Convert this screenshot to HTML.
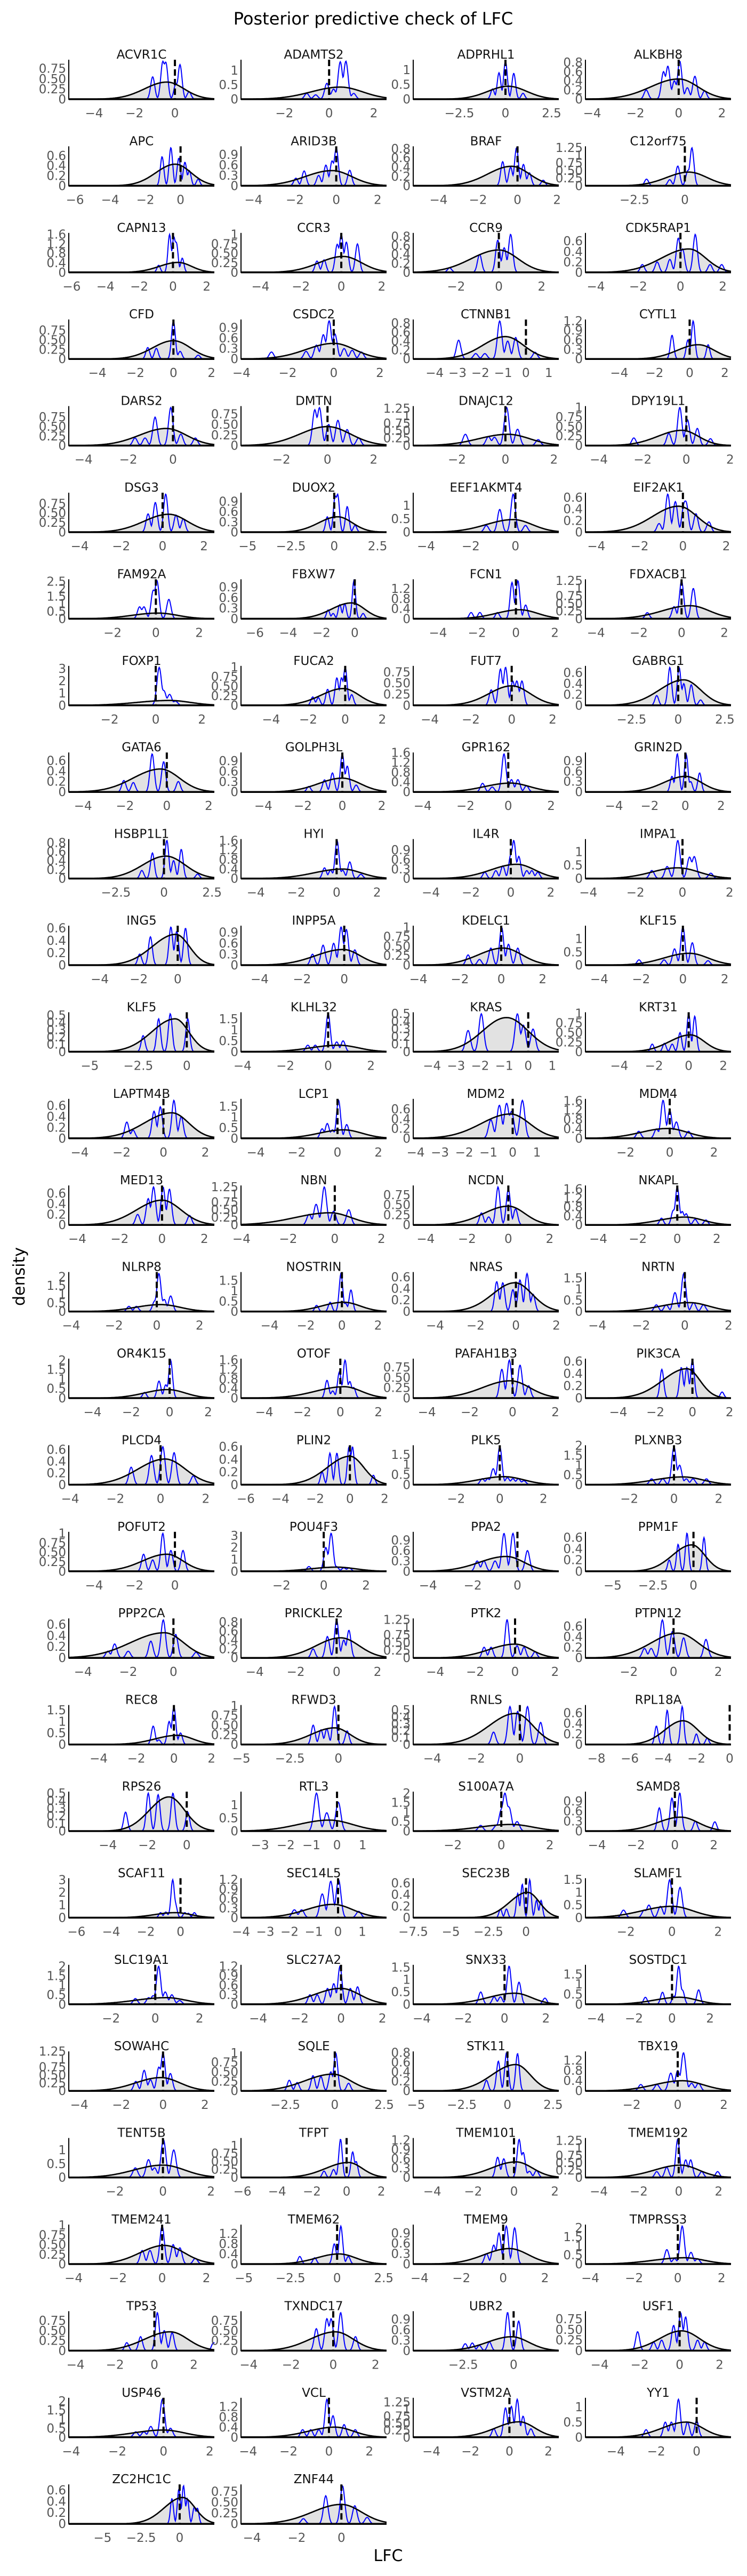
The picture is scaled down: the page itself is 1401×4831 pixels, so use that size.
<!DOCTYPE html>
<html><head><meta charset="utf-8">
<style>
html,body{margin:0;padding:0;background:#fff;}
svg{display:block;font-family:"DejaVu Sans","Liberation Sans",sans-serif;}
</style></head>
<body>
<svg id="fig" width="1401" height="4831" viewBox="0 0 1401 4831" xmlns="http://www.w3.org/2000/svg">
<text x="700" y="46" text-anchor="middle" font-size="32" fill="#000">Posterior predictive check of LFC</text>
<text x="0" y="0" transform="translate(46,2394) rotate(-90)" text-anchor="middle" font-size="30" fill="#000">density</text>
<text x="728" y="4803" text-anchor="middle" font-size="30" fill="#000">LFC</text>
<g id="panels"></g>
</svg>
<script>
const geneNames = ["ACVR1C","ADAMTS2","ADPRHL1","ALKBH8","APC","ARID3B","BRAF","C12orf75","CAPN13","CCR3","CCR9","CDK5RAP1","CFD","CSDC2","CTNNB1","CYTL1","DARS2","DMTN","DNAJC12","DPY19L1","DSG3","DUOX2","EEF1AKMT4","EIF2AK1","FAM92A","FBXW7","FCN1","FDXACB1","FOXP1","FUCA2","FUT7","GABRG1","GATA6","GOLPH3L","GPR162","GRIN2D","HSBP1L1","HYI","IL4R","IMPA1","ING5","INPP5A","KDELC1","KLF15","KLF5","KLHL32","KRAS","KRT31","LAPTM4B","LCP1","MDM2","MDM4","MED13","NBN","NCDN","NKAPL","NLRP8","NOSTRIN","NRAS","NRTN","OR4K15","OTOF","PAFAH1B3","PIK3CA","PLCD4","PLIN2","PLK5","PLXNB3","POFUT2","POU4F3","PPA2","PPM1F","PPP2CA","PRICKLE2","PTK2","PTPN12","REC8","RFWD3","RNLS","RPL18A","RPS26","RTL3","S100A7A","SAMD8","SCAF11","SEC14L5","SEC23B","SLAMF1","SLC19A1","SLC27A2","SNX33","SOSTDC1","SOWAHC","SQLE","STK11","TBX19","TENT5B","TFPT","TMEM101","TMEM192","TMEM241","TMEM62","TMEM9","TMPRSS3","TP53","TXNDC17","UBR2","USF1","USP46","VCL","VSTM2A","YY1","ZC2HC1C","ZNF44"];
const xMin = [-5.25,-3.94,-5.0,-4.31,-6.35,-4.6,-5.28,-4.93,-6.17,-4.96,-4.0,-4.49,-5.5,-4.02,-4.94,-5.92,-4.66,-3.75,-3.8,-4.61,-4.53,-5.38,-4.57,-4.5,-4.02,-6.83,-5.27,-4.49,-3.77,-5.62,-4.81,-4.97,-4.68,-5.13,-4.44,-5.6,-4.95,-4.73,-4.88,-4.12,-5.59,-4.88,-4.25,-4.66,-6.08,-4.07,-4.78,-5.95,-4.52,-4.72,-4.1,-3.81,-4.4,-4.02,-4.6,-4.65,-4.11,-5.58,-5.08,-4.54,-5.23,-5.22,-4.64,-5.77,-4.06,-6.27,-3.96,-3.96,-5.25,-3.91,-4.66,-6.68,-4.63,-4.67,-5.1,-3.94,-5.59,-5.02,-4.87,-8.66,-5.98,-3.74,-3.63,-4.59,-6.44,-4.0,-7.5,-3.75,-3.91,-4.83,-4.41,-4.55,-4.5,-4.74,-5.16,-4.0,-3.92,-6.08,-4.93,-4.67,-4.22,-5.15,-4.3,-4.22,-4.34,-4.36,-4.98,-4.71,-4.1,-4.35,-4.93,-5.5,-7.19,-4.49];
const xMax = [1.95,2.57,2.89,2.42,1.92,2.43,2.09,2.29,2.45,2.24,2.8,2.39,2.15,2.29,1.44,2.35,1.85,2.56,2.2,2.04,2.5,3.02,1.94,2.22,2.7,1.91,2.2,2.31,2.54,2.23,2.3,2.83,2.27,2.24,2.36,2.56,2.62,2.47,2.4,2.06,1.88,2.0,2.78,2.3,1.42,2.73,1.27,2.44,2.43,2.4,1.9,2.77,2.47,2.22,2.44,2.72,2.69,2.47,2.12,2.11,2.32,2.43,2.16,2.08,2.38,2.11,2.7,2.55,1.95,2.97,1.85,2.32,1.81,2.44,2.19,2.57,2.15,2.48,1.78,0.08,1.4,1.93,2.37,2.88,1.95,2.0,2.18,2.56,2.67,2.2,2.62,3.1,2.45,2.62,2.81,2.31,2.14,2.3,2.19,2.62,2.36,2.65,2.66,2.43,3.04,2.52,2.24,2.57,2.2,2.85,2.53,1.7,2.25,2.02];
const A="−4,−2,0", B="−4,−2,0,2", C="−2,0,2", D="−6,−4,−2,0", E="−6,−4,−2,0,2", F="−4,−3,−2,−1,0,1", G="−2.5,0,2.5", H="−5,−2.5,0", I="−5,−2.5,0,2.5";
const xTicks = [A,C,G,B,D,B,B,"−2.5,0",E,B,C,B,B,B,F,B,A,C,C,B,B,I,A,B,C,D,B,B,C,B,B,G,B,B,B,B,G,B,B,B,A,A,B,B,H,B,F,B,B,B,F,C,B,B,B,B,B,B,B,B,B,B,B,B,B,E,C,C,A,C,A,H,A,B,B,C,B,H,A,"−8,−6,−4,−2,0",A,"−3,−2,−1,0,1",C,B,D,F,"−7.5,−5,−2.5,0",C,C,B,B,B,B,G,I,C,C,E,B,B,B,I,B,B,B,B,"−2.5,0",B,B,B,B,A,H,A];
const q="0,0.25,0.50,0.75", q1="0,0.25,0.50,0.75,1", q2="0,0.25,0.50,0.75,1,1.25", h="0,0.5,1", h2="0,0.5,1,1.5", h3="0,0.5,1,1.5,2", t="0,0.2,0.4,0.6", t8="0,0.2,0.4,0.6,0.8", n="0,0.3,0.6,0.9", n2="0,0.3,0.6,0.9,1.2", f="0,0.4,0.8,1.2", f2="0,0.4,0.8,1.2,1.6", o="0,1,2,3", p="0,0.1,0.2,0.3,0.4,0.5";
const yTicks = [q,h,h,t8,t,n,t8,q2,f2,q1,t8,t,q,n,t8,n2,q,q,q2,q1,q,n,h,t,"0,0.5,1,1.5,2,2.5",n,f,q2,o,q1,q,t,t,n,f2,n,t8,f2,n,h,t,n,q1,h,p,h2,p,q1,t,h2,t,f2,t,q2,q,f2,h3,h2,t,h2,h3,f2,q,t,t,t,h2,h3,q1,o,n,t,t,t8,q2,t,h2,q1,p,t,p,h,h3,n,o,n2,t,h2,h3,n2,h2,h2,q2,q1,t8,f,h,q1,n2,q2,q1,f,n,h3,q,q,n,q,h3,f,q2,h,t,q];
const obsLFC = new Array(114).fill(0);
// posterior predictive curve: [centre, left spread, right spread, peak density]
const ppcCurve = [[-0.4,1.1,0.85,0.42],[0.5,1.3,1.0,0.42],[0.15,1.1,1.0,0.44],[0,1.3,0.9,0.44],[-0.3,1.1,0.9,0.43],[-0.2,1.3,0.95,0.44],[-0.3,1.2,0.9,0.42],[0.2,1.1,0.9,0.45],[0.3,1.1,0.8,0.42],[0.1,1.2,0.9,0.42],[0,1.3,0.9,0.5],[0.4,1.3,0.8,0.45],[0,1.1,0.9,0.48],[0,1.2,0.9,0.45],[-0.9,1.0,0.8,0.5],[0.5,1.2,0.9,0.45],[-0.3,1.2,0.9,0.45],[0,1.2,1.0,0.45],[0.1,1.2,0.9,0.38],[-0.2,1.1,0.75,0.4],[0.3,1.2,0.9,0.47],[0.2,1.1,0.85,0.45],[-0.1,1.2,0.85,0.47],[-0.2,1.2,0.85,0.45],[0.1,1.2,0.9,0.38],[-0.2,1.2,0.8,0.45],[0.2,1.2,0.9,0.36],[0.4,1.3,0.9,0.43],[0.6,1.4,0.9,0.4],[-0.1,1.2,0.85,0.44],[0,1.1,0.9,0.44],[0.3,1.3,0.9,0.47],[-0.3,1.3,0.9,0.44],[0,1.2,0.9,0.4],[0.1,1.2,0.9,0.36],[0,1.2,0.9,0.45],[0.1,1.2,1.0,0.5],[0.3,1.4,0.9,0.4],[0.3,1.3,0.9,0.45],[-0.2,1.1,0.9,0.4],[-0.1,1.2,0.7,0.5],[-0.05,1.3,0.8,0.43],[0.1,1.2,0.9,0.45],[0.3,1.2,0.9,0.45],[-0.6,1.2,0.7,0.45],[0.5,1.3,0.9,0.3],[-0.9,1.0,0.9,0.45],[0.1,1.2,0.8,0.44],[0.4,1.3,0.8,0.47],[0.3,1.2,0.9,0.4],[-0.1,1.2,0.8,0.5],[-0.1,1.2,0.9,0.42],[0,1.2,0.9,0.47],[-0.2,1.5,0.9,0.4],[0,1.2,0.8,0.47],[0.4,1.3,0.9,0.35],[0.2,1.2,0.9,0.4],[0.1,1.2,0.9,0.45],[-0.05,1.1,0.85,0.5],[0.2,1.3,0.9,0.4],[-0.1,1.2,0.9,0.45],[0.2,1.5,0.9,0.48],[-0.1,1.3,0.9,0.42],[-0.3,1.3,0.7,0.48],[0.2,1.2,0.9,0.44],[0,1.3,0.8,0.45],[0.2,1.2,0.9,0.4],[0.4,1.3,0.9,0.4],[-0.4,1.2,0.8,0.45],[0.6,1.2,0.9,0.35],[-0.5,1.2,0.8,0.43],[-0.1,1.2,0.8,0.47],[-0.4,1.5,0.85,0.45],[0.2,1.2,0.9,0.45],[0,1.3,0.8,0.45],[0.2,1.2,0.9,0.47],[0.2,1.2,0.8,0.4],[-0.2,1.2,0.8,0.43],[-0.2,1.2,0.8,0.45],[-2.8,1.1,0.9,0.45],[-0.9,1.0,0.8,0.45],[-0.3,1.2,0.9,0.42],[0.4,1.3,0.9,0.35],[0.3,1.2,0.9,0.42],[-0.3,1.2,0.9,0.4],[-0.2,1.1,0.8,0.42],[0.1,1.2,0.8,0.44],[0,1.3,0.9,0.45],[0.5,1.4,0.9,0.35],[0,1.3,0.9,0.5],[0.5,1.3,0.8,0.45],[0.4,1.3,0.9,0.35],[-0.1,1.2,0.9,0.42],[-0.1,1.4,0.9,0.44],[0.45,1.3,0.8,0.55],[0.2,1.2,0.9,0.4],[0,1.2,0.9,0.45],[0.1,1.3,0.8,0.47],[0.1,1.2,0.8,0.5],[0.1,1.3,0.9,0.42],[0.1,1.1,0.9,0.48],[0.1,1.2,0.9,0.4],[0.3,1.2,0.9,0.45],[0.3,1.4,0.9,0.35],[0.8,1.3,0.9,0.47],[0.1,1.2,0.85,0.47],[-0.1,1.2,0.85,0.4],[0.1,1.1,0.9,0.47],[0,1.3,0.9,0.4],[0.3,1.3,0.9,0.4],[0.5,1.2,0.8,0.55],[-0.5,1.2,0.8,0.5],[0.2,1.2,0.8,0.47],[0,1.3,0.9,0.45]];
// observed-data density peaks: [LFC, density]
const obsPeaks = [
[[-1.1,0.55],[-0.6,0.92],[-0.45,0.9],[0.05,0.38],[0.25,0.85],[0.7,0.18]],
[[-1.0,0.2],[-0.6,0.15],[-0.1,0.55],[0.2,0.35],[0.5,1.3],[0.75,1.32],[1.1,0.2]],
[[-0.7,0.35],[-0.35,0.9],[0,1.3],[0.45,0.88],[0.95,0.2]],
[[-1.5,0.2],[-0.7,0.6],[-0.5,0.72],[-0.2,0.4],[0.05,0.83],[0.4,0.25],[0.75,0.5],[1.2,0.18]],
[[-1.05,0.58],[-0.55,0.76],[-0.1,0.55],[0.25,0.47],[0.5,0.3],[1.0,0.13]],
[[-1.95,0.22],[-1.55,0.43],[-0.85,0.3],[-0.5,0.6],[-0.2,0.72],[0,1.1],[0.65,0.45]],
[[-0.75,0.52],[-0.35,0.4],[-0.05,0.82],[0.3,0.46],[0.6,0.28],[1.3,0.12]],
[[-1.9,0.22],[-0.75,0.2],[-0.35,0.65],[0.15,0.5],[0.35,1.25]],
[[-0.85,0.3],[-0.2,1.6],[0.05,1.5],[0.2,1.25],[0.55,0.6]],
[[-1.2,0.3],[-0.85,0.33],[-0.2,0.74],[0,1.0],[0.25,0.8],[0.8,0.75]],
[[-2.3,0.1],[-0.9,0.4],[-0.05,0.72],[0.25,0.55],[0.55,0.85]],
[[-1.8,0.15],[-1.1,0.2],[-0.5,0.25],[-0.1,0.66],[0.1,0.45],[0.7,0.73],[1.4,0.15],[1.95,0.15]],
[[-1.35,0.3],[-0.9,0.28],[0,1.0],[0.35,0.2],[1.3,0.1]],
[[-2.7,0.2],[-1.2,0.22],[-0.75,0.4],[-0.45,0.7],[-0.2,1.1],[0.05,0.72],[0.45,0.3],[0.8,0.25],[1.2,0.2]],
[[-2.95,0.42],[-2.2,0.12],[-1.8,0.12],[-1.15,0.85],[-0.8,0.4],[-0.45,0.48],[0.4,0.15]],
[[-1.0,0.75],[-0.1,0.6],[0.2,1.2],[1.05,0.45]],
[[-1.7,0.2],[-1.25,0.2],[-0.8,0.75],[-0.1,1.0],[0.35,0.3],[1.0,0.2]],
[[-0.55,0.85],[-0.35,0.9],[0.05,0.5],[0.45,0.6],[0.85,0.38],[1.35,0.18]],
[[-1.65,0.38],[-0.7,0.3],[-0.45,0.28],[0.05,1.28],[0.5,0.55],[1.35,0.2]],
[[-2.4,0.2],[-0.8,0.32],[-0.3,1.0],[0.05,0.68],[0.5,0.45],[1.1,0.18]],
[[-0.7,0.48],[-0.35,0.78],[0.15,1.0],[0.65,0.45],[1.0,0.35]],
[[-0.4,0.45],[0.05,1.05],[0.2,1.1],[0.75,0.75],[1.2,0.2]],
[[-1.3,0.25],[-0.7,0.85],[-0.1,1.42],[0.45,0.25]],
[[-1.1,0.15],[-0.7,0.66],[-0.35,0.53],[0.05,0.47],[0.15,0.5],[0.6,0.32],[1.2,0.18]],
[[-0.75,0.8],[-0.55,0.8],[-0.12,1.9],[0.05,2.55],[0.6,1.3]],
[[-1.6,0.25],[-1.3,0.15],[-0.9,0.4],[-0.6,0.42],[-0.05,1.08],[0.5,0.15]],
[[-2.3,0.25],[-1.85,0.25],[-0.95,0.25],[-0.2,1.45],[0.1,1.52],[0.5,0.55]],
[[-1.6,0.2],[-0.35,0.4],[0,1.25],[0.55,1.0]],
[[0.15,3.1],[0.35,1.2],[0.6,0.9],[0.85,0.35]],
[[-1.75,0.22],[-1.45,0.2],[-0.95,0.42],[-0.45,0.72],[-0.2,0.72],[0,1.0],[0.35,0.28]],
[[-1.0,0.35],[-0.55,0.82],[-0.3,0.86],[0.05,0.55],[0.25,0.55],[0.5,0.55]],
[[-1.15,0.18],[-0.45,0.7],[0.05,0.7],[0.3,0.4],[0.7,0.38],[1.2,0.1]],
[[-2.05,0.22],[-1.6,0.18],[-0.7,0.73],[-0.15,0.58],[0.55,0.2]],
[[-1.7,0.16],[-0.9,0.35],[-0.5,0.55],[0,1.1],[0.25,0.75],[0.7,0.2]],
[[-1.2,0.35],[-0.75,0.2],[-0.2,1.55],[0.15,0.5],[0.45,0.5],[0.85,0.25]],
[[-0.75,0.45],[-0.45,1.1],[0.05,1.08],[0.3,0.3],[0.8,0.55]],
[[-1.15,0.18],[-0.6,0.57],[0.15,0.85],[0.5,0.4],[0.9,0.65],[1.75,0.1]],
[[-0.6,0.45],[-0.3,0.35],[0.02,1.6],[0.3,0.35],[0.65,0.7],[1.2,0.18]],
[[-1.3,0.2],[-0.75,0.25],[-0.4,0.4],[0,0.75],[0.15,1.2],[0.4,0.7],[0.8,0.25],[1.05,0.25],[1.35,0.2]],
[[-1.3,0.3],[-0.65,0.45],[-0.2,1.42],[0.3,0.8],[0.5,0.82],[1.2,0.2]],
[[-1.95,0.18],[-1.4,0.46],[-0.35,0.62],[-0.05,0.55],[0.4,0.6]],
[[-1.5,0.3],[-1.0,0.55],[-0.5,0.6],[-0.15,1.05],[0.1,0.98],[0.5,0.42]],
[[-1.6,0.27],[-1.05,0.15],[-0.5,0.45],[0.02,1.0],[0.35,0.55],[0.8,0.45]],
[[-2.1,0.2],[-0.9,0.2],[-0.4,0.62],[0,1.45],[0.45,0.85],[1.2,0.17]],
[[-2.25,0.22],[-1.45,0.45],[-0.85,0.52],[0.05,0.45]],
[[-0.95,0.3],[-0.6,0.3],[0,1.75],[0.4,0.45],[0.7,0.5]],
[[-2.5,0.28],[-1.95,0.5],[-0.45,0.5],[-0.2,0.35],[0.2,0.3]],
[[-2.1,0.2],[-1.4,0.22],[-0.95,0.2],[-0.5,0.5],[0,1.0],[0.35,0.93]],
[[-1.75,0.3],[-1.45,0.15],[-0.45,0.5],[-0.15,0.58],[0.5,0.7],[0.85,0.4]],
[[-0.75,0.45],[-0.5,0.7],[-0.25,0.4],[0.05,1.8],[0.45,0.65]],
[[-0.9,0.38],[-0.55,0.68],[-0.25,0.72],[-0.05,0.55],[0.4,0.78]],
[[-1.4,0.3],[-0.6,0.4],[-0.3,1.62],[0,1.2],[0.3,0.7],[0.85,0.3]],
[[-1.15,0.2],[-0.65,0.5],[-0.4,0.72],[0.05,0.72],[0.35,0.68],[1.3,0.18]],
[[-1.1,0.35],[-0.8,0.68],[-0.45,1.25],[-0.05,0.45],[0.6,0.5]],
[[-1.3,0.3],[-0.95,0.2],[-0.5,0.95],[0,0.9],[0.35,0.4]],
[[-0.8,0.3],[-0.2,0.65],[0,1.7],[0.25,0.6],[0.45,0.5],[0.9,0.25],[1.45,0.22]],
[[-1.3,0.3],[-0.95,0.3],[-0.1,0.6],[0.1,2.2],[0.35,0.7],[0.65,0.9]],
[[-1.4,0.3],[-0.65,0.45],[-0.05,1.85],[0.2,0.4],[0.5,1.05]],
[[-0.95,0.52],[-0.65,0.5],[-0.15,0.38],[0.2,0.55],[0.55,0.66],[0.85,0.3]],
[[-1.3,0.3],[-0.85,0.3],[-0.45,0.85],[-0.05,1.7],[0.4,0.4],[0.85,0.3]],
[[-1.3,0.3],[-0.55,0.9],[-0.2,0.7],[0.05,2.0]],
[[-0.7,0.75],[-0.4,0.3],[-0.05,1.1],[0.25,1.6],[0.5,0.7],[0.7,0.45]],
[[-0.5,0.7],[-0.15,0.92],[0.35,0.8],[0.75,0.3]],
[[-1.65,0.47],[-0.6,0.5],[-0.3,0.5],[0,0.62],[1.6,0.1]],
[[-1.3,0.3],[-0.4,0.5],[0.1,0.65],[0.6,0.55],[1.45,0.15]],
[[-1.6,0.2],[-1.15,0.5],[-0.75,0.5],[-0.05,0.6],[0.15,0.6],[1.35,0.15]],
[[-0.8,0.3],[-0.55,0.3],[-0.3,0.8],[0,1.9],[0.35,0.35],[0.6,0.3],[0.85,0.3],[1.1,0.2]],
[[-1.0,0.3],[-0.5,0.3],[0,1.95],[0.25,1.0],[0.55,0.3],[0.85,0.3],[1.45,0.3]],
[[-1.55,0.45],[-1.1,0.3],[-0.6,1.0],[-0.2,0.55],[0.4,0.55]],
[[-0.7,0.4],[0.1,2.0],[0.35,3.2],[0.6,0.4],[0.95,0.3],[1.2,0.3]],
[[-1.8,0.3],[-1.5,0.3],[-1.0,0.3],[-0.6,1.1],[-0.2,1.1],[0.45,0.6]],
[[-1.5,0.2],[-0.95,0.48],[-0.4,0.68],[0.65,0.6]],
[[-2.9,0.12],[-2.6,0.25],[-2.0,0.12],[-1.0,0.3],[-0.45,0.68],[0.1,0.42],[1.0,0.1]],
[[-1.15,0.2],[-0.45,0.48],[0,0.85],[0.35,0.4],[0.6,0.62]],
[[-1.55,0.35],[-1.2,0.35],[-0.4,1.25],[0.1,0.4],[0.45,0.35],[1.0,0.2]],
[[-1.3,0.18],[-1.0,0.18],[-0.5,0.72],[-0.05,0.5],[0.45,0.38],[1.45,0.35]],
[[-1.1,0.8],[-0.8,0.2],[-0.25,1.0],[0,1.65],[0.35,0.5]],
[[-1.3,0.5],[-0.9,0.38],[-0.6,0.4],[-0.2,0.98],[0.45,0.35]],
[[-1.2,0.18],[-0.45,0.55],[-0.1,0.48],[0.35,0.55],[0.95,0.32]],
[[-4.4,0.35],[-3.75,0.65],[-2.85,0.72],[-2.0,0.2],[-1.35,0.12]],
[[-3.1,0.25],[-1.95,0.5],[-1.45,0.48],[-0.7,0.5],[0.05,0.25]],
[[-0.8,1.45],[-0.4,0.7],[0.05,1.1]],
[[-0.85,0.3],[-0.2,0.3],[0,1.1],[0.15,2.0],[0.32,1.25],[0.65,0.5]],
[[-0.8,0.7],[-0.15,1.0],[0.25,1.15],[1.05,0.3],[2.05,0.28]],
[[-1.15,0.4],[-0.85,0.45],[-0.6,0.4],[-0.45,3.0],[-0.3,1.1],[0.25,0.4],[0.45,0.35],[0.8,0.4]],
[[-1.8,0.25],[-1.5,0.25],[-0.65,0.75],[-0.3,1.15],[0.02,1.2],[0.85,0.2]],
[[-1.7,0.15],[-1.3,0.15],[-0.55,0.42],[-0.25,0.58],[0.25,0.66],[0.7,0.3],[1.0,0.3]],
[[-2.1,0.3],[-1.2,0.3],[-1.0,0.5],[-0.5,0.45],[-0.1,1.5],[0.35,1.2]],
[[-0.9,0.3],[-0.3,0.35],[-0.1,0.45],[0.15,2.0],[0.45,0.65],[0.75,0.5],[1.1,0.2]],
[[-1.5,0.3],[-1.15,0.3],[-0.65,0.5],[-0.35,0.65],[-0.05,1.2],[0.45,0.5],[0.8,0.55]],
[[-1.15,0.5],[-0.5,0.3],[-0.2,0.3],[0.22,1.55],[0.7,0.9],[1.95,0.25]],
[[-1.4,0.35],[-0.5,0.6],[0.1,0.4],[0.35,1.9],[0.55,0.7],[1.4,0.72]],
[[-1.3,0.3],[-0.9,0.65],[-0.6,0.35],[-0.2,0.75],[0,1.2],[0.35,0.55]],
[[-2.3,0.28],[-1.9,0.22],[-1.1,0.4],[-0.7,0.38],[-0.2,0.5],[0.05,1.0],[0.7,0.2]],
[[-1.15,0.22],[-0.5,0.62],[-0.05,0.8],[0.55,0.78]],
[[-1.6,0.25],[-0.9,0.25],[-0.3,0.7],[0,0.8],[0.25,1.5],[0.6,0.3],[0.9,0.3]],
[[-1.15,0.35],[-0.6,0.65],[-0.35,0.35],[0.02,1.38],[0.45,1.0]],
[[-1.3,0.2],[-0.75,0.25],[-0.35,1.2],[0.35,0.8],[0.55,0.5]],
[[-0.8,0.65],[-0.5,0.6],[0.25,1.22],[0.45,0.8],[0.75,0.2],[1.1,0.22]],
[[-1.1,0.2],[-0.6,0.35],[-0.05,1.3],[0.35,0.6],[0.6,0.6],[1.15,0.2],[1.95,0.2]],
[[-0.9,0.35],[-0.55,0.35],[0,0.98],[0.5,0.5],[0.8,0.42],[1.5,0.15]],
[[-2.0,0.3],[-1.2,0.25],[-0.15,0.8],[0.2,1.5],[0.6,0.3]],
[[-0.8,0.3],[-0.45,0.55],[-0.2,0.9],[0.15,1.1],[0.55,1.05]],
[[-0.5,0.8],[-0.15,0.3],[0.2,2.1],[0.6,0.65],[0.9,0.3]],
[[-1.4,0.2],[-0.7,0.35],[0.15,0.95],[0.5,0.5],[0.9,0.45],[3.0,0.2]],
[[-0.8,0.55],[-0.3,0.8],[-0.1,0.8],[0.35,0.95],[1.05,0.35]],
[[-2.4,0.2],[-2.05,0.22],[-1.7,0.15],[-1.2,0.25],[-0.3,1.1],[0.25,0.85]],
[[-2.1,0.45],[-1.3,0.2],[-0.9,0.25],[-0.3,0.6],[0.05,0.9],[0.3,0.8],[0.9,0.25],[1.25,0.2]],
[[-1.2,0.3],[-0.85,0.3],[-0.55,0.6],[-0.05,2.1],[0.3,0.5]],
[[-1.3,0.3],[-0.9,0.3],[-0.5,0.3],[-0.1,1.5],[0.2,0.85],[0.75,0.5],[1.3,0.3]],
[[-0.8,0.3],[-0.2,1.05],[0.1,1.1],[0.4,1.35],[0.7,0.75],[1.1,0.3]],
[[-2.5,0.25],[-1.55,0.5],[-1.25,0.5],[-0.9,1.25],[-0.45,0.5],[0,0.55]],
[[-0.5,0.45],[-0.05,0.62],[0.25,0.68],[0.5,0.45],[0.95,0.3],[1.15,0.28]],
[[-1.7,0.12],[-0.7,0.65],[0.05,0.88],[0.6,0.42],[1.15,0.15]]
];

const NS = "http://www.w3.org/2000/svg";
const colLeft = [129, 452, 775, 1098];
const AXW = 273, AXH = 74, TOP0 = 112, PITCH = 162.4, BW = 0.1, NPTS = 280;
const root = document.getElementById('panels');
function mk(tag, attrs, parent) {
  const e = document.createElementNS(NS, tag);
  for (const k in attrs) e.setAttribute(k, attrs[k]);
  parent.appendChild(e);
  return e;
}
function ppcDensity(i, x) {
  const c = ppcCurve[i];
  const s = x < c[0] ? c[1] : c[2];
  return c[3] * Math.exp(-Math.pow(x - c[0], 2) / (2 * s * s));
}
function obsDensity(i, x) {
  let acc = 0;
  for (const pk of obsPeaks[i]) {
    const g = pk[1] * Math.exp(-Math.pow(x - pk[0], 2) / (2 * BW * BW));
    acc += g * g * g;
  }
  return Math.cbrt(acc);
}
function num(s) { return parseFloat(s.replace('−', '-')); }

for (let i = 0; i < geneNames.length; i++) {
  const r = Math.floor(i / 4), c = i % 4;
  const L = colLeft[c], T = TOP0 + r * PITCH, Bt = T + AXH;
  const x0 = xMin[i], x1 = xMax[i];
  const xs = [], yb = [], yo = [];
  let ymaxData = 0;
  for (let k = 0; k <= NPTS; k++) {
    const x = x0 + (x1 - x0) * k / NPTS;
    xs.push(x);
    const b = ppcDensity(i, x), o = obsDensity(i, x);
    yb.push(b); yo.push(o);
    ymaxData = Math.max(ymaxData, b, o);
  }
  const ymax = ymaxData * 1.04;
  const sx = v => L + (v - x0) / (x1 - x0) * AXW;
  const sy = v => Bt - v / ymax * AXH;

  const g = mk('g', {}, root);
  
  

  const title = mk('text', {x: L + AXW / 2, y: T - 2, 'text-anchor': 'middle', 'font-size': 23, fill: '#111'}, g);
  title.textContent = geneNames[i];
  
  

  let fillPts = sx(x0).toFixed(1) + ',' + sy(0).toFixed(1) + ' ';
  let bl = '', ol = '';
  for (let k = 0; k < xs.length; k++) {
    const X = sx(xs[k]).toFixed(1);
    bl += X + ',' + sy(yb[k]).toFixed(1) + ' ';
    ol += X + ',' + sy(yo[k]).toFixed(1) + ' ';
  }
  fillPts += bl + sx(x1).toFixed(1) + ',' + sy(0).toFixed(1);
  const fill = mk('polygon', {points: fillPts, fill: '#e2e2e2', stroke: 'none'}, g);
  
  
  const obsLine = mk('polyline', {points: ol, fill: 'none', stroke: '#0000ff', 'stroke-width': 2}, g);
  
  
  const ppcLine = mk('polyline', {points: bl, fill: 'none', stroke: '#000', 'stroke-width': 2.6}, g);
  
  
  const vx = sx(obsLFC[i]);
  const vl = mk('line', {x1: vx, x2: vx, y1: T, y2: Bt, stroke: '#000', 'stroke-width': 4, 'stroke-dasharray': '12 6'}, g);
  
  

  const ya = mk('line', {x1: L, x2: L, y1: T, y2: Bt + 1, stroke: '#000', 'stroke-width': 2}, g);
  
  
  const xa = mk('line', {x1: L, x2: L + AXW, y1: Bt, y2: Bt, stroke: '#000', 'stroke-width': 3.5}, g);
  
  

  for (const s of xTicks[i].split(',')) {
    const v = num(s);
    if (v < x0 - 0.01 || v > x1 + 0.01) continue;
    const tx = mk('text', {x: sx(v), y: Bt + 34, 'text-anchor': 'middle', 'font-size': 23, fill: '#555'}, g);
    tx.textContent = s;
    
    
  }
  for (const s of yTicks[i].split(',')) {
    const v = num(s);
    if (v > ymax * 1.08) continue;
    const ty = mk('text', {x: L - 5, y: sy(v) + 8, 'text-anchor': 'end', 'font-size': 23, fill: '#555'}, g);
    ty.textContent = s;
    
    
  }
}
</script>
</body></html>
